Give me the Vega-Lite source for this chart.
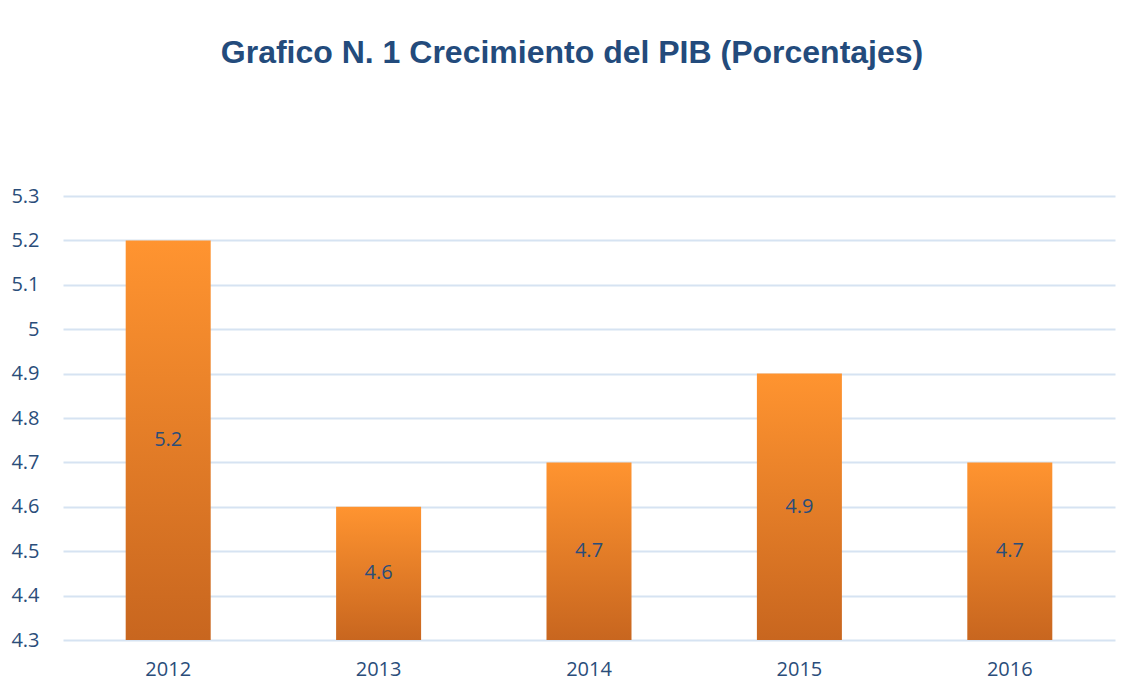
{
  "$schema": "https://vega.github.io/schema/vega-lite/v6.json",
  "autosize": "none",
  "width": 1052,
  "height": 444,
  "padding": {"left": 63, "top": 196, "right": 11, "bottom": 55},
  "background": "white",
  "title": {
    "text": "Grafico N. 1 Crecimiento del PIB (Porcentajes)",
    "font": "Liberation Sans",
    "fontSize": 32,
    "fontWeight": "bold",
    "color": "#234B7C",
    "anchor": "middle",
    "offset": 116,
    "dx": -17
  },
  "data": {
    "values": [
      {"year": "2012", "value": 5.2},
      {"year": "2013", "value": 4.6},
      {"year": "2014", "value": 4.7},
      {"year": "2015", "value": 4.9},
      {"year": "2016", "value": 4.7}
    ]
  },
  "encoding": {
    "x": {
      "field": "year",
      "type": "ordinal",
      "scale": {"paddingInner": 0.596, "paddingOuter": 0.298},
      "axis": {
        "title": null,
        "domain": false,
        "ticks": false,
        "labelAngle": 0,
        "labelFont": "Open Sans",
        "labelFontSize": 20,
        "labelColor": "#2A4D7A",
        "labelPadding": 19
      }
    }
  },
  "layer": [
    {
      "mark": {
        "type": "bar",
        "color": {
          "gradient": "linear",
          "x1": 0, "y1": 0, "x2": 0, "y2": 1,
          "stops": [
            {"offset": 0, "color": "#FF9430"},
            {"offset": 1, "color": "#C8661F"}
          ]
        }
      },
      "encoding": {
        "y": {
          "field": "value",
          "type": "quantitative",
          "scale": {"domain": [4.3, 5.3], "zero": false, "nice": false},
          "axis": {
            "title": null,
            "domain": false,
            "ticks": false,
            "values": [4.3, 4.4, 4.5, 4.6, 4.7, 4.8, 4.9, 5.0, 5.1, 5.2, 5.3],
            "format": "~g",
            "grid": true,
            "gridColor": "#D6E3F2",
            "gridWidth": 2,
            "labelFont": "Open Sans",
            "labelFontSize": 20,
            "labelColor": "#2A4D7A",
            "labelPadding": 24
          }
        },
        "y2": {"datum": 4.3}
      }
    },
    {
      "transform": [{"calculate": "(datum.value + 4.3) / 2", "as": "mid"}],
      "mark": {
        "type": "text",
        "font": "Open Sans",
        "fontSize": 20,
        "color": "#2A4D7A",
        "baseline": "middle",
        "align": "center"
      },
      "encoding": {
        "y": {"field": "mid", "type": "quantitative"},
        "text": {"field": "value", "type": "quantitative", "format": ".1f"}
      }
    }
  ],
  "config": {"view": {"stroke": null}}
}
